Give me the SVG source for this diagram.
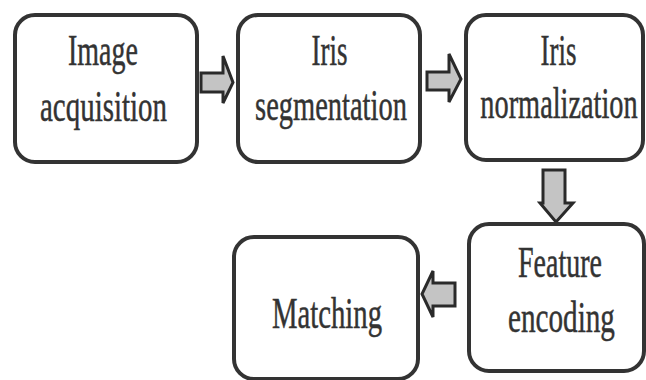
<svg xmlns="http://www.w3.org/2000/svg" width="646" height="380" viewBox="0 0 646 380">
<style>
.box{fill:#fff;stroke:#333;stroke-width:4}
.lbl{font-family:"Liberation Serif","Times New Roman",serif;font-size:45px;fill:#333;stroke:#333;stroke-width:0.5;text-anchor:middle}
.arr{fill:#c4c4c4;stroke:#2a2a2a;stroke-width:3;stroke-linejoin:miter}
</style>
<rect width="646" height="380" fill="#fff"/>
<g id="connectors">
<path class="arr" d="M201,73 H223 V56 L233,82.5 L223,103 V92 H201 Z"/>
<path class="arr" d="M427,72 H449 V54 L461,79 L449,102 V90 H427 Z"/>
<path class="arr" d="M543,170 H565 V203 H573 L556,222 L540,203 H543 Z"/>
<path class="arr" d="M455,283 H433 V271 L422,294 L433,317 V306 H455 Z"/>
</g>
<g id="n1">
<rect class="box" x="15" y="15" width="182" height="147" rx="20"/>
<text class="lbl" transform="translate(103,65) scale(0.622,1)">Image</text>
<text class="lbl" transform="translate(103.5,121) scale(0.643,1)">acquisition</text>
</g>
<g id="n2">
<rect class="box" x="238" y="15" width="182" height="147" rx="20"/>
<text class="lbl" transform="translate(329.5,65) scale(0.6,1)">Iris</text>
<text class="lbl" transform="translate(331,120) scale(0.633,1)">segmentation</text>
</g>
<g id="n3">
<rect class="box" x="466" y="15" width="177" height="145" rx="20"/>
<text class="lbl" transform="translate(558.5,65) scale(0.6,1)">Iris</text>
<text class="lbl" transform="translate(559,118) scale(0.63,1)">normalization</text>
</g>
<g id="n4">
<rect class="box" x="469" y="224" width="175" height="147" rx="20"/>
<text class="lbl" transform="translate(560,277) scale(0.622,1)">Feature</text>
<text class="lbl" transform="translate(561.5,332) scale(0.648,1)">encoding</text>
</g>
<g id="n5">
<rect class="box" x="234" y="237" width="184" height="142" rx="20"/>
<text class="lbl" transform="translate(327,328) scale(0.638,1)">Matching</text>
</g>
</svg>
